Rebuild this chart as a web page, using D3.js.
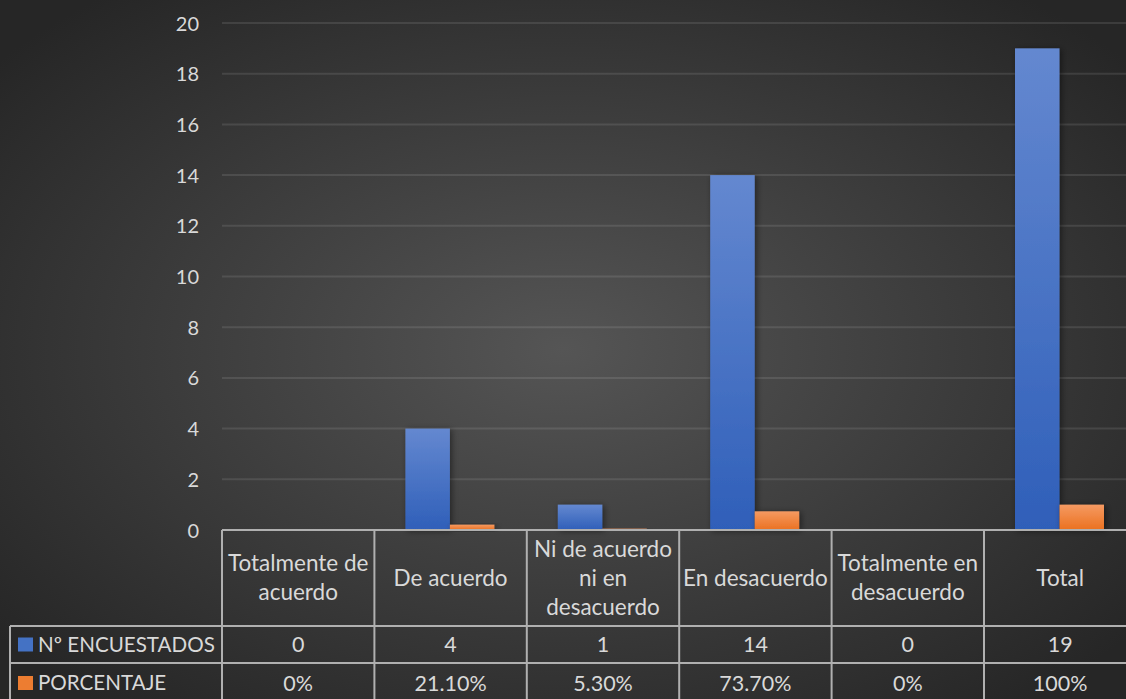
<!DOCTYPE html>
<html>
<head>
<meta charset="utf-8">
<script src="https://cdn.jsdelivr.net/npm/d3@7"></script>
<style>
html,body{margin:0;padding:0;background:#262626;overflow:hidden;}
svg{display:block;font-family:Lato, "Open Sans", sans-serif;}
</style>
</head>
<body>
<svg id="chart" width="1126" height="699"></svg>
<script>
const categories = ["Totalmente de acuerdo", "De acuerdo", "Ni de acuerdo ni en desacuerdo", "En desacuerdo", "Totalmente en desacuerdo", "Total"];
const categoryLines = [["Totalmente de", "acuerdo"], ["De acuerdo"], ["Ni de acuerdo", "ni en", "desacuerdo"], ["En desacuerdo"], ["Totalmente en", "desacuerdo"], ["Total"]];
const seriesNames = ["Nº ENCUESTADOS", "PORCENTAJE"];
const encuestados = [0, 4, 1, 14, 0, 19];
const porcentaje = [0, 0.211, 0.053, 0.737, 0, 1];
const encuestadosLabels = ["0", "4", "1", "14", "0", "19"];
const porcentajeLabels = ["0%", "21.10%", "5.30%", "73.70%", "0%", "100%"];
const yTicks = [0, 2, 4, 6, 8, 10, 12, 14, 16, 18, 20];

const W = 1126, H = 699;
const svg = d3.select("#chart");
const defs = svg.append("defs");

// background radial gradient
const bg = defs.append("radialGradient").attr("id", "bg")
  .attr("cx", "50%").attr("cy", "50%").attr("r", "65%");
bg.append("stop").attr("offset", "0%").attr("stop-color", "#555555");
bg.append("stop").attr("offset", "100%").attr("stop-color", "#262626");
svg.append("rect").attr("width", W).attr("height", H).attr("fill", "url(#bg)");

const colors = ["#4472C4", "#ED7D31"];
const grads = [["#6488d0", "#2f5fb9"], ["#f59a62", "#eb7120"]];
grads.forEach((g, i) => {
  const lg = defs.append("linearGradient").attr("id", "g" + i)
    .attr("x1", 0).attr("y1", 0).attr("x2", 0).attr("y2", 1);
  lg.append("stop").attr("offset", "0%").attr("stop-color", g[0]);
  lg.append("stop").attr("offset", "100%").attr("stop-color", g[1]);
});
const f = defs.append("filter").attr("id", "shadow").attr("x", "-30%").attr("y", "-30%").attr("width", "160%").attr("height", "160%");
f.append("feDropShadow").attr("dx", 2).attr("dy", 1).attr("stdDeviation", 3).attr("flood-color", "#000").attr("flood-opacity", 0.45);

const plotLeft = 222, catW = 152.4;
const plotTop = 23, plotBottom = 530;
const x0 = d3.scaleBand().domain(categories).range([plotLeft, plotLeft + catW * 6]).padding(0);
const x1 = d3.scaleBand().domain(seriesNames).range([31, 120]).padding(0);
const y = d3.scaleLinear().domain([0, 20]).range([plotBottom, plotTop]);

const textColor = "#d9d9d9";

// gridlines
svg.append("g").selectAll("line").data(yTicks.filter(t => t > 0)).join("line")
  .attr("x1", plotLeft).attr("x2", W)
  .attr("y1", d => y(d)).attr("y2", d => y(d))
  .attr("stroke", "#ffffff").attr("stroke-opacity", 0.1).attr("stroke-width", 2);

// y axis labels
const yAxis = d3.axisLeft(y).tickValues(yTicks).tickSize(0).tickPadding(0);
const ya = svg.append("g").attr("transform", `translate(199,0)`).call(yAxis);
ya.select(".domain").remove();
ya.selectAll("text").attr("fill", textColor).attr("font-size", 20).attr("font-family", "Lato").attr("dy", "0.35em");

// bars
const seriesData = [encuestados, porcentaje];
seriesData.forEach((vals, si) => {
  svg.append("g").selectAll("rect").data(vals.map((v, i) => ({ v, c: categories[i] }))).join("rect")
    .filter(d => d.v > 0)
    .attr("x", d => x0(d.c) + x1(seriesNames[si]))
    .attr("width", x1.bandwidth())
    .attr("y", d => y(d.v))
    .attr("height", d => y(0) - y(d.v))
    .attr("fill", `url(#g${si})`)
    .attr("filter", "url(#shadow)");
});

// data table
const row1 = 626, row2 = 663, tableBottom = 705, tableLeft = 10;
const lineColor = "#b0b0b0";
const tg = svg.append("g").attr("stroke", lineColor).attr("stroke-width", 2);
tg.append("line").attr("x1", plotLeft).attr("x2", W + 20).attr("y1", plotBottom).attr("y2", plotBottom);
tg.append("line").attr("x1", tableLeft).attr("x2", W + 20).attr("y1", row1).attr("y2", row1);
tg.append("line").attr("x1", tableLeft).attr("x2", W + 20).attr("y1", row2).attr("y2", row2);
tg.append("line").attr("x1", tableLeft).attr("x2", tableLeft).attr("y1", row1).attr("y2", tableBottom);
tg.selectAll("line.v").data(categories).join("line").attr("class", "v")
  .attr("x1", d => x0(d)).attr("x2", d => x0(d))
  .attr("y1", plotBottom).attr("y2", tableBottom);

// category labels
const lh = 29;
const catG = svg.append("g").attr("fill", textColor).attr("font-size", 22.5).attr("text-anchor", "middle");
categories.forEach((c, i) => {
  const lines = categoryLines[i];
  const cy = (plotBottom + row1) / 2;
  lines.forEach((ln, j) => {
    catG.append("text")
      .attr("x", x0(c) + x0.bandwidth() / 2)
      .attr("y", cy + (j - (lines.length - 1) / 2) * lh)
      .attr("dy", "0.35em")
      .text(ln);
  });
});

// legend keys + row labels
const rowCenters = [(row1 + row2) / 2, (row2 + 705) / 2 - 1];
const rowLabels = [encuestadosLabels, porcentajeLabels];
seriesNames.forEach((s, si) => {
  const cy = rowCenters[si];
  svg.append("rect").attr("x", 18).attr("y", cy - 7).attr("width", 15).attr("height", 14).attr("fill", colors[si]);
  svg.append("text").attr("x", 38).attr("y", cy).attr("dy", "0.35em")
    .attr("fill", textColor).attr("font-size", 20.6).text(s);
  svg.append("g").selectAll("text").data(categories).join("text")
    .attr("x", d => x0(d) + x0.bandwidth() / 2)
    .attr("y", cy).attr("dy", "0.35em")
    .attr("text-anchor", "middle").attr("fill", textColor).attr("font-size", 21.5)
    .text((d, i) => rowLabels[si][i]);
});
</script>
</body>
</html>
